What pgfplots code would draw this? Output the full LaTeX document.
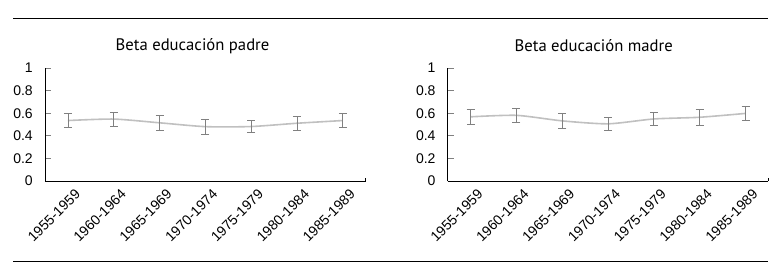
\documentclass[border=0pt]{standalone}
\usepackage{pgfplots}
\pgfplotsset{compat=1.18}
\usepackage{pgfplotstable}
\usepackage{fontspec}
\setmainfont{Liberation Sans}
\newfontfamily\titlefont{PT Sans}
\definecolor{linegray}{HTML}{C0C0C0}
\definecolor{errgray}{HTML}{808080}

\pgfplotstableread{
x y e
0 0.535 0.065
1 0.548 0.062
2 0.515 0.066
3 0.481 0.068
4 0.482 0.053
5 0.511 0.060
6 0.535 0.061
}\padre
\pgfplotstableread{
x y e
0 0.568 0.065
1 0.581 0.062
2 0.532 0.065
3 0.506 0.058
4 0.549 0.056
5 0.564 0.071
6 0.598 0.062
}\madre

\pgfplotsset{
  panel/.style={
    scale only axis,
    width=240.5pt, height=84.75pt,
    anchor=south west,
    xmin=-0.5, xmax=6.5, ymin=0, ymax=1,
    axis x line=bottom, axis y line=left,
    x axis line style={-}, y axis line style={-},
    axis line style={line width=0.6pt},
    xtick={0,...,6},
    xticklabels={1955-1959,1960-1964,1965-1969,1970-1974,1975-1979,1980-1984,1985-1989},
    xtick style={draw=none},
    xticklabel style={rotate=45, anchor=east, font=\fontsize{10.5}{11}\selectfont, inner sep=1pt, xshift=0.5pt, yshift=-11pt},
    ytick={0,0.2,0.4,0.6,0.8,1},
    tick align=inside,
    ytick style={line width=0.6pt},
    major tick length=4.5pt,
    yticklabel style={font=\fontsize{10.5}{11}\selectfont, anchor=east, inner sep=0pt, xshift=-9pt},
    /pgf/number format/assume math mode=true,
    clip=false,
  },
  ser/.style={
    color=linegray, line width=1.2pt, smooth, tension=0.4, mark=none,
    error bars/.cd, y dir=both, y explicit,
    error bar style={errgray, line width=0.6pt},
    error mark options={rotate=90, errgray, mark size=3pt, line width=0.6pt},
  },
}

\begin{document}
\begin{tikzpicture}
\useasboundingbox (0,0) rectangle (585.75pt,207.75pt);
\draw[line width=0.7pt] (9.75pt,194.25pt) -- (576pt,194.25pt);
\draw[line width=0.7pt] (9.75pt,12pt) -- (576pt,12pt);
\node[font=\titlefont\fontsize{12.5}{13}\selectfont] at (144.4pt,173.25pt) {Beta educación padre};
\node[font=\titlefont\fontsize{12.5}{13}\selectfont] at (445.3pt,173.25pt) {Beta educación madre};

\begin{axis}[panel, at={(33.75pt,72pt)}]
\addplot+[ser] table[x=x, y=y, y error=e] {\padre};
\draw[line width=0.6pt] (rel axis cs:1,0) -- (rel axis cs:1,0.03);
\end{axis}

\begin{axis}[panel, at={(335.8pt,72pt)}]
\addplot+[ser] table[x=x, y=y, y error=e] {\madre};
\draw[line width=0.6pt] (rel axis cs:1,0) -- (rel axis cs:1,0.03);
\end{axis}
\end{tikzpicture}
\end{document}
